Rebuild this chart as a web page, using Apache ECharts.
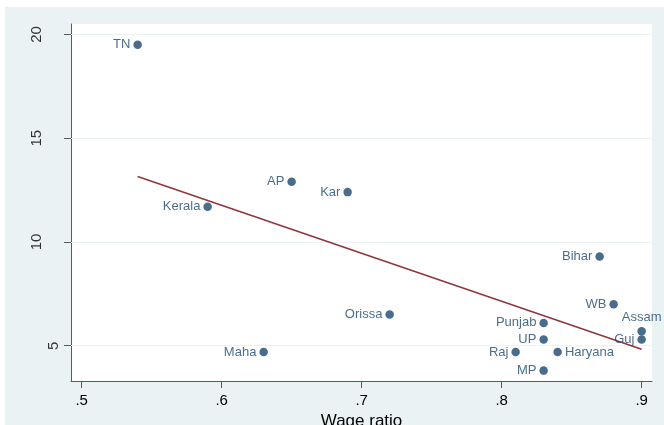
<!DOCTYPE html>
<html>
<head>
<meta charset="utf-8">
<script src="https://cdn.jsdelivr.net/npm/echarts@6/dist/echarts.min.js"></script>
<style>
html,body{margin:0;padding:0;background:#fff;}
#chart{width:664px;height:425px;}
</style>
</head>
<body>
<div id="chart"></div>
<script>
const states = ['TN','Kerala','AP','Kar','Orissa','Maha','Bihar','WB','Assam','Guj','Punjab','UP','Raj','Haryana','MP'];
const wageRatio = [0.54,0.59,0.65,0.69,0.72,0.63,0.87,0.88,0.90,0.90,0.83,0.83,0.81,0.84,0.83];
const yValues = [19.5,11.7,12.9,12.4,6.5,4.7,9.3,7.0,5.7,5.3,6.1,5.3,4.7,4.7,3.8];
const labelPos = {Haryana:'right', Assam:'top'};
const fitX = [0.54, 0.90];
const fitY = [13.15, 4.83];
const xTicks = [0.5,0.6,0.7,0.8,0.9];
const yTicks = [5,10,15,20];

const X_MIN = 0.4924, X_MAX = 0.9074, Y_MIN = 3.3, Y_MAX = 20.5;
const navy = '#1A476F', maroon = '#90353B', bg = '#EAF2F3', axisCol = '#5a5a5a';
const chart = echarts.init(document.getElementById('chart'), null, {renderer:'canvas'});
const font = '"Liberation Sans", Arial, sans-serif';

const pts = states.map((s,i)=>({
  name:s, value:[wageRatio[i], yValues[i]],
  label:{position: labelPos[s] || 'left'}
}));

// y tick labels (Stata-style vertical), anchored on the y axis through the scale
const yLabelPts = yTicks.map(v=>({
  value:[X_MIN, v],
  label:{distance: String(v).length > 1 ? 26 : 9}
}));

chart.setOption({
  animation:false,
  graphic:{elements:[
    {type:'rect', z:-100, shape:{x:5,y:7,width:659,height:418}, style:{fill:bg}},
    {type:'rect', z:-99, shape:{x:71,y:24,width:581,height:357}, style:{fill:'#fff'}}
  ]},
  grid:{left:71, top:24, right:12, bottom:44, outerBoundsMode:'none', containLabel:false},
  xAxis:{
    type:'value', min:X_MIN, max:X_MAX,
    name:'Wage ratio', nameLocation:'middle', nameGap:27,
    nameTextStyle:{fontFamily:font, fontSize:17, color:'#000'},
    axisLine:{show:true, onZero:false, lineStyle:{color:axisCol, width:1}},
    axisTick:{show:true, customValues:xTicks, length:7, lineStyle:{color:axisCol}},
    axisLabel:{customValues:xTicks, margin:12, fontFamily:font, fontSize:15, color:'#000',
      formatter:v=>String(+v.toFixed(2)).replace(/^0/,'')},
    splitLine:{show:false}
  },
  yAxis:{
    type:'value', min:Y_MIN, max:Y_MAX,
    axisLine:{show:true, onZero:false, lineStyle:{color:axisCol, width:1}},
    axisTick:{show:true, customValues:yTicks, length:7, lineStyle:{color:axisCol}},
    axisLabel:{show:false, customValues:yTicks},
    splitLine:{show:false}
  },
  series:[
    {type:'line', data:[], z:1, silent:true,
     markLine:{silent:true, z:1, symbol:'none', label:{show:false},
       lineStyle:{color:bg, type:'solid', width:1},
       data:yTicks.map(v=>({yAxis:v}))}},
    {type:'line', data:fitX.map((x,i)=>[x, fitY[i]]), showSymbol:false, z:2,
     lineStyle:{color:maroon, width:1.5}},
    {type:'scatter', data:pts, symbolSize:8.5, z:3,
     itemStyle:{color:navy},
     label:{show:true, formatter:p=>p.name, distance:3, fontFamily:font, fontSize:13, color:navy}},
    {type:'scatter', data:yLabelPts, symbolSize:1, z:3, silent:true, clip:false,
     itemStyle:{color:'rgba(0,0,0,0)'},
     label:{show:true, position:'left', rotate:90, align:'center', verticalAlign:'bottom',
       formatter:p=>String(p.value[1]), fontFamily:font, fontSize:15, color:'#000'}}
  ]
});
</script>
</body>
</html>
